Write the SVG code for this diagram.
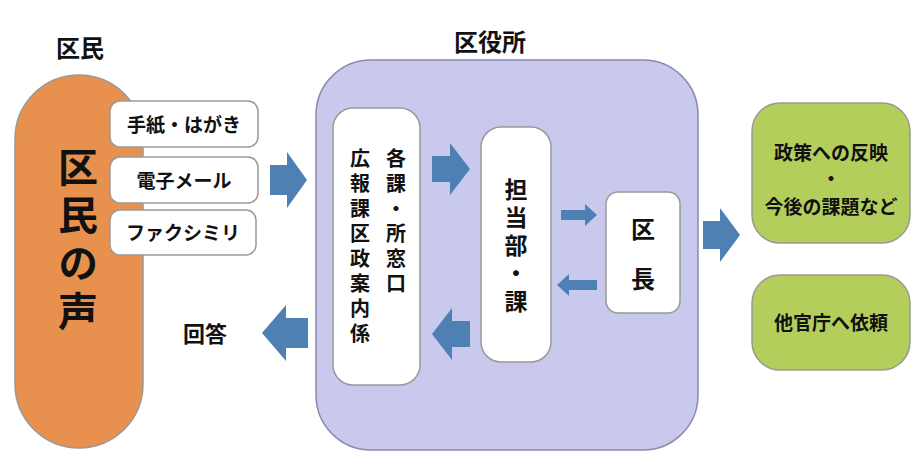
<svg xmlns="http://www.w3.org/2000/svg" width="915" height="458" viewBox="0 0 915 458">
<style>
text{font-family:"Noto Sans CJK JP","Noto Sans CJK SC",sans-serif;font-weight:bold;fill:#111;text-anchor:middle}
.v{writing-mode:vertical-rl;text-orientation:upright;text-anchor:start}
.w{fill:#fff;stroke:#999;stroke-width:1.5}
.g{fill:#B4CE5C;stroke:#999;stroke-width:1.5}
.a{fill:#4F80B4}
</style>
<rect width="915" height="458" fill="#fff"/>
<text x="80" y="57" font-size="24">区民</text>
<text x="490" y="51" font-size="24">区役所</text>
<g id="voice"><rect x="15" y="75" width="128" height="373" rx="64" fill="#E8914F" stroke="#999" stroke-width="1.5"/>
<text class="v" x="78" y="147" font-size="40" letter-spacing="8">区民の声</text></g>
<g id="letter"><rect class="w" x="110" y="101" width="148" height="46" rx="10"/><text x="184" y="132" font-size="19">手紙・はがき</text></g>
<g id="email"><rect class="w" x="110" y="157" width="148" height="46" rx="10"/><text x="184" y="188" font-size="19">電子メール</text></g>
<g id="fax"><rect class="w" x="110" y="210" width="146" height="45" rx="10"/><text x="183" y="240" font-size="19">ファクシミリ</text></g>
<g id="office"><rect x="316" y="60" width="382" height="390" rx="55" fill="#C9C9EE" stroke="#8a8ab0" stroke-width="1.5"/></g>
<g id="window"><rect class="w" x="333" y="108" width="87" height="277" rx="20"/>
<text class="v" x="396" y="148" font-size="20" letter-spacing="5">各課・所窓口</text>
<text class="v" x="360" y="148" font-size="20" letter-spacing="5">広報課区政案内係</text></g>
<g id="dept"><rect class="w" x="481" y="127" width="70" height="235" rx="20"/>
<text class="v" x="516" y="178" font-size="23" letter-spacing="5">担当部・課</text></g>
<g id="mayor"><rect class="w" x="606" y="192" width="74" height="121" rx="12"/>
<text class="v" x="643" y="217" font-size="24" letter-spacing="26">区長</text></g>
<g id="policy"><rect class="g" x="752" y="103" width="158" height="140" rx="28"/>
<text x="831" y="160" font-size="19">政策への反映</text><text x="831" y="186" font-size="19">・</text><text x="831" y="214" font-size="19">今後の課題など</text></g>
<g id="other"><rect class="g" x="752" y="275" width="158" height="95" rx="28"/><text x="831" y="330" font-size="19">他官庁へ依頼</text></g>
<text x="205" y="342" font-size="22">回答</text>
<g id="connectors">
<path class="a" d="M270,165h17v-13l20,28l-20,28v-13h-17z"/>
<path class="a" d="M432,156h18v-13l20,26l-20,26v-13h-18z"/>
<path class="a" d="M561,210h24v-6l12,11l-12,11v-6h-24z"/>
<path class="a" d="M597,280h-28v-6l-12,11l12,11v-6h28z"/>
<path class="a" d="M470,321h-18v-13l-20,26l20,26v-13h18z"/>
<path class="a" d="M308,318h-22v-13l-24,28l24,28v-13h22z"/>
<path class="a" d="M703,221h17v-13l20,27l-20,27v-13h-17z"/>
</g>
</svg>
